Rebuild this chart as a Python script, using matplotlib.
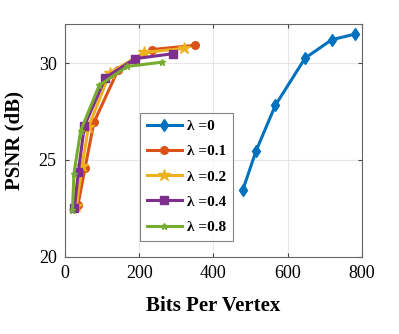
import matplotlib
matplotlib.use("Agg")
import matplotlib.pyplot as plt

# Data
x_l0 = [479, 515, 567, 647, 719, 782]
y_l0 = [23.45, 25.48, 27.83, 30.26, 31.21, 31.5]
x_l01 = [35, 54, 78, 143, 234, 350]
y_l01 = [22.7, 24.6, 26.95, 29.65, 30.7, 30.92]
x_l02 = [30, 46, 63, 121, 214, 320]
y_l02 = [22.6, 24.7, 26.7, 29.5, 30.55, 30.76]
x_l04 = [25, 36, 52, 109, 189, 292]
y_l04 = [22.5, 24.4, 26.75, 29.25, 30.23, 30.49]
x_l08 = [20, 24, 42, 92, 168, 262]
y_l08 = [22.4, 24.3, 26.5, 28.85, 29.83, 30.05]
labels = ["λ =0", "λ =0.1", "λ =0.2", "λ =0.4", "λ =0.8"]
xticks = [0, 200, 400, 600, 800]
yticks = [20, 25, 30]

plt.rcParams['font.family'] = ['Liberation Serif', 'DejaVu Serif']

fig = plt.figure(figsize=(3.99, 3.34), dpi=100)
ax = fig.add_axes([0.163, 0.231, 0.744, 0.696])

series = [
    (x_l0, y_l0, '#0072BD', 'd', 6),
    (x_l01, y_l01, '#D95319', 'o', 5.5),
    (x_l02, y_l02, '#EDB120', '*', 9),
    (x_l04, y_l04, '#7E2F8E', 's', 5.5),
    (x_l08, y_l08, '#77AC30', '*', 5),
]
for (xs, ys, c, m, ms), lab in zip(series, labels):
    ax.plot(xs, ys, color=c, marker=m, markersize=ms, linewidth=2.2,
            markerfacecolor=c, markeredgecolor=c, label=lab)

ax.set_xlim(0, 800)
ax.set_ylim(20, 32)
ax.set_xticks(xticks)
ax.set_yticks(yticks)
ax.grid(True, color='#e6e6e6', linewidth=0.8)
ax.set_axisbelow(True)
ax.tick_params(direction='in', top=True, right=True, labelsize=13, length=3,
               color='#444444', pad=6)
for s in ax.spines.values():
    s.set_color('#666666')
    s.set_linewidth(0.8)
ax.set_xlabel('Bits Per Vertex', fontsize=15, fontweight='bold', labelpad=10)
ax.set_ylabel('PSNR (dB)', fontsize=15, fontweight='bold', labelpad=10)

leg = ax.legend(loc='upper left', bbox_to_anchor=(0.2525, 0.62), frameon=True,
                fancybox=False, edgecolor='#666666', borderaxespad=0,
                prop={'weight': 'bold', 'size': 11}, handlelength=2.3,
                labelspacing=0.75, borderpad=0.45, handletextpad=0.35)
leg.get_frame().set_linewidth(0.8)

fig.savefig('out.png', dpi=100)
